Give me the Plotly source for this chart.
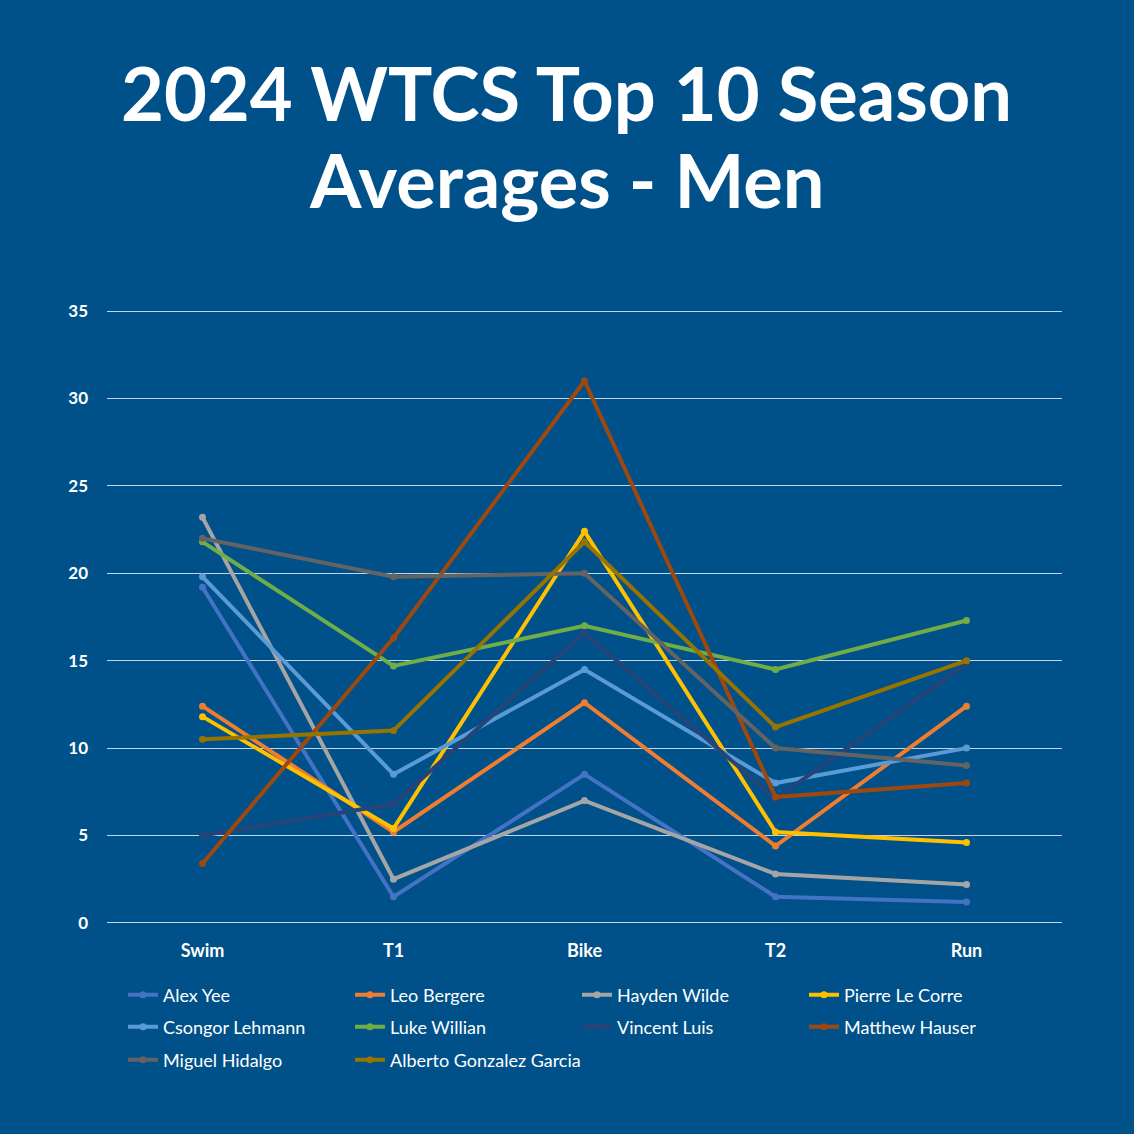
import plotly.graph_objects as go

stages = ["Swim", "T1", "Bike", "T2", "Run"]

athletes = ["Alex Yee", "Leo Bergere", "Hayden Wilde", "Pierre Le Corre",
            "Csongor Lehmann", "Luke Willian", "Vincent Luis", "Matthew Hauser",
            "Miguel Hidalgo", "Alberto Gonzalez Garcia"]

alex_yee = [19.2, 1.5, 8.5, 1.5, 1.2]
leo_bergere = [12.4, 5.2, 12.6, 4.4, 12.4]
hayden_wilde = [23.2, 2.5, 7.0, 2.8, 2.2]
pierre_le_corre = [11.8, 5.4, 22.4, 5.2, 4.6]
csongor_lehmann = [19.8, 8.5, 14.5, 8.0, 10.0]
luke_willian = [21.8, 14.7, 17.0, 14.5, 17.3]
vincent_luis = [5.0, 6.8, 16.6, 7.1, 14.8]
matthew_hauser = [3.4, 16.3, 31.0, 7.2, 8.0]
miguel_hidalgo = [22.0, 19.8, 20.0, 10.0, 9.0]
alberto_gonzalez_garcia = [10.5, 11.0, 21.8, 11.2, 15.0]

series = [alex_yee, leo_bergere, hayden_wilde, pierre_le_corre, csongor_lehmann,
          luke_willian, vincent_luis, matthew_hauser, miguel_hidalgo,
          alberto_gonzalez_garcia]

colors = ["#4472C4", "#ED7D31", "#A5A5A5", "#FFC000", "#5B9BD5",
          "#70AD47", "#264478", "#9E480E", "#636363", "#997300"]

y_ticks = [0, 5, 10, 15, 20, 25, 30, 35]

title_lines = ["2024 WTCS Top 10 Season", "Averages - Men"]

bg = "#005189"
H = 1134
plot_top, plot_bottom = 311, 923
pad = 0.12  # small range padding so the 0 and 35 gridlines are drawn

legend_names = ["legend", "legend", "legend", "legend",
                "legend2", "legend2", "legend2", "legend2",
                "legend3", "legend4"]

fig = go.Figure()
for name, vals, col, lg in zip(athletes, series, colors, legend_names):
    fig.add_trace(go.Scatter(
        x=stages, y=vals, name=name, mode="lines+markers",
        line=dict(color=col, width=4),
        marker=dict(color=col, size=7),
        legend=lg,
    ))

def legend_cfg(row_px, left_px=123, ew=182):
    return dict(
        orientation="h", x=left_px / H, xref="container", xanchor="left",
        y=1 - row_px / H, yref="container", yanchor="middle",
        entrywidth=ew, entrywidthmode="pixels",
        font=dict(family="Lato", size=18, color="white"),
        bgcolor="rgba(0,0,0,0)", itemwidth=30,
    )

span_px = plot_bottom - plot_top
unit_px = span_px / (y_ticks[-1] - y_ticks[0])
extra = pad * unit_px

def paper_y(px):
    return (plot_bottom + extra - px) / (span_px + 2 * extra)

annotations = []
for line, cy in zip(title_lines, [92, 179]):
    annotations.append(dict(
        text="<b>" + line + "</b>", x=(566 - 107) / 955, xref="paper", xanchor="center",
        y=paper_y(cy), yref="paper", yanchor="middle", showarrow=False,
        font=dict(family="Lato", size=74, color="white"),
    ))

fig.update_layout(
    width=1134, height=1134,
    paper_bgcolor=bg, plot_bgcolor=bg,
    margin=dict(l=107, r=72, t=round(plot_top - extra), b=round(H - plot_bottom - extra)),
    font=dict(family="Lato", color="white"),
    showlegend=True,
    legend=legend_cfg(995),
    legend2=legend_cfg(1027),
    legend3=legend_cfg(1060),
    legend4=legend_cfg(1060, left_px=123 + 227, ew=300),
    annotations=annotations,
    xaxis=dict(
        type="category", range=[-0.5, 4.5], showgrid=False, zeroline=False,
        showline=False, ticks="",
        tickfont=dict(family="Lato", size=18, color="white", weight="bold"),
        ticklabelstandoff=13,
    ),
    yaxis=dict(
        range=[y_ticks[0] - pad, y_ticks[-1] + pad], tickvals=y_ticks, showgrid=True,
        gridcolor="#C3D5E6", gridwidth=1, zeroline=False, showline=False,
        tickfont=dict(family="Lato", size=17, color="white", weight="bold"),
        ticklabelstandoff=18,
    ),
)

fig.write_html("out.html", config={"displayModeBar": False},
               post_script="document.body.style.margin='0';")
